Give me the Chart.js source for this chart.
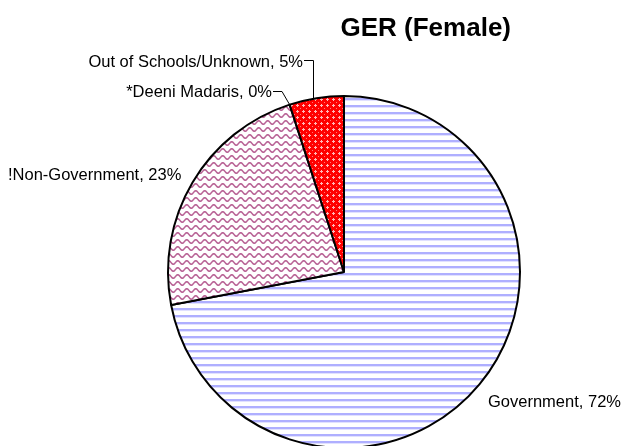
<!DOCTYPE html>
<html><head><meta charset="utf-8">
<script src="https://cdn.jsdelivr.net/npm/chart.js@4/dist/chart.umd.min.js"></script>
<style>html,body{margin:0;padding:0;overflow:hidden;background:#fff;width:624px;height:446px}</style>
</head><body>
<canvas id="c" width="624" height="460" style="display:block;width:624px;height:460px"></canvas>
<script>
const categories = ['Government', '!Non-Government', '*Deeni Madaris', 'Out of Schools/Unknown'];
const values = [72, 23, 0, 5];
const chartTitle = 'GER (Female)';

const canvas = document.getElementById('c');
const ctx0 = canvas.getContext('2d');

function tile(w, h, draw) {
  const c = document.createElement('canvas');
  c.width = w; c.height = h;
  const x = c.getContext('2d');
  draw(x, w, h);
  return ctx0.createPattern(c, 'repeat');
}
const govPattern = tile(8, 7, (x, w, h) => {
  x.fillStyle = '#fff'; x.fillRect(0, 0, w, h);
  x.fillStyle = 'rgb(175,175,255)'; x.fillRect(0, 0, w, 2);
  x.fillStyle = 'rgb(225,225,255)'; x.fillRect(0, 2, w, 1);
});
const wavePattern = tile(9, 7, (x, w, h) => {
  x.fillStyle = '#fff'; x.fillRect(0, 0, w, h);
  x.strokeStyle = 'rgb(185,100,150)'; x.lineWidth = 1.5;
  x.beginPath();
  for (let i = -2; i <= 22; i++) {
    const px = i * 0.5;
    const py = 3.5 + 1.8 * Math.sin(2 * Math.PI * px / 9);
    if (i === -2) x.moveTo(px, py); else x.lineTo(px, py);
  }
  x.stroke();
});
const redPattern = tile(6, 6, (x, w, h) => {
  x.fillStyle = '#ff0000'; x.fillRect(0, 0, w, h);
  x.fillStyle = 'rgb(255,185,185)';
  x.fillRect(3, 2, 1, 3); x.fillRect(2, 3, 3, 1);
  x.fillStyle = 'rgb(255,120,120)';
  x.fillRect(0, 0, 1, 1);
});

const labelPlugin = {
  id: 'labels',
  afterDraw(chart) {
    const ctx = chart.ctx;
    const arcs = chart.getDatasetMeta(0).data;
    const total = values.reduce((a, b) => a + b, 0);
    const txt = i => categories[i] + ', ' + Math.round(values[i] / total * 100) + '%';
    ctx.save();
    ctx.fillStyle = '#000'; ctx.strokeStyle = '#000'; ctx.lineWidth = 1;
    ctx.font = 'bold 26px "Liberation Sans", Arial, sans-serif';
    ctx.textAlign = 'right'; ctx.textBaseline = 'alphabetic';
    ctx.fillText(chartTitle, 511, 36);

    ctx.font = '16.5px "Liberation Sans", Arial, sans-serif';
    ctx.textAlign = 'left';
    ctx.fillText(txt(0), 488, 407);
    ctx.fillText(txt(1), 8, 180);

    const a2 = arcs[2];
    const dx = a2.x + a2.outerRadius * Math.cos(a2.startAngle);
    const dy = a2.y + a2.outerRadius * Math.sin(a2.startAngle);
    ctx.beginPath(); ctx.moveTo(dx, dy); ctx.lineTo(282, 91.5); ctx.lineTo(273, 91.5); ctx.stroke();
    ctx.textAlign = 'right';
    ctx.fillText(txt(2), 272, 97);

    const a3 = arcs[3];
    const lx = 313.5;
    const ly = a3.y - Math.sqrt(a3.outerRadius * a3.outerRadius - (lx - a3.x) * (lx - a3.x));
    ctx.beginPath(); ctx.moveTo(lx, ly); ctx.lineTo(lx, 60.5); ctx.lineTo(304, 60.5); ctx.stroke();
    ctx.fillText(txt(3), 303, 67);
    ctx.restore();
  }
};

new Chart(canvas, {
  type: 'pie',
  data: {
    labels: categories,
    datasets: [{
      data: values,
      backgroundColor: [govPattern, wavePattern, '#fff', redPattern],
      borderColor: '#000',
      borderWidth: 2
    }]
  },
  options: {
    responsive: false,
    animation: false,
    devicePixelRatio: 1,
    layout: { padding: { top: 95, left: 167, right: 103, bottom: 11 } },
    plugins: { legend: { display: false }, tooltip: { enabled: false }, title: { display: false } }
  },
  plugins: [labelPlugin]
});
</script>
</body></html>
